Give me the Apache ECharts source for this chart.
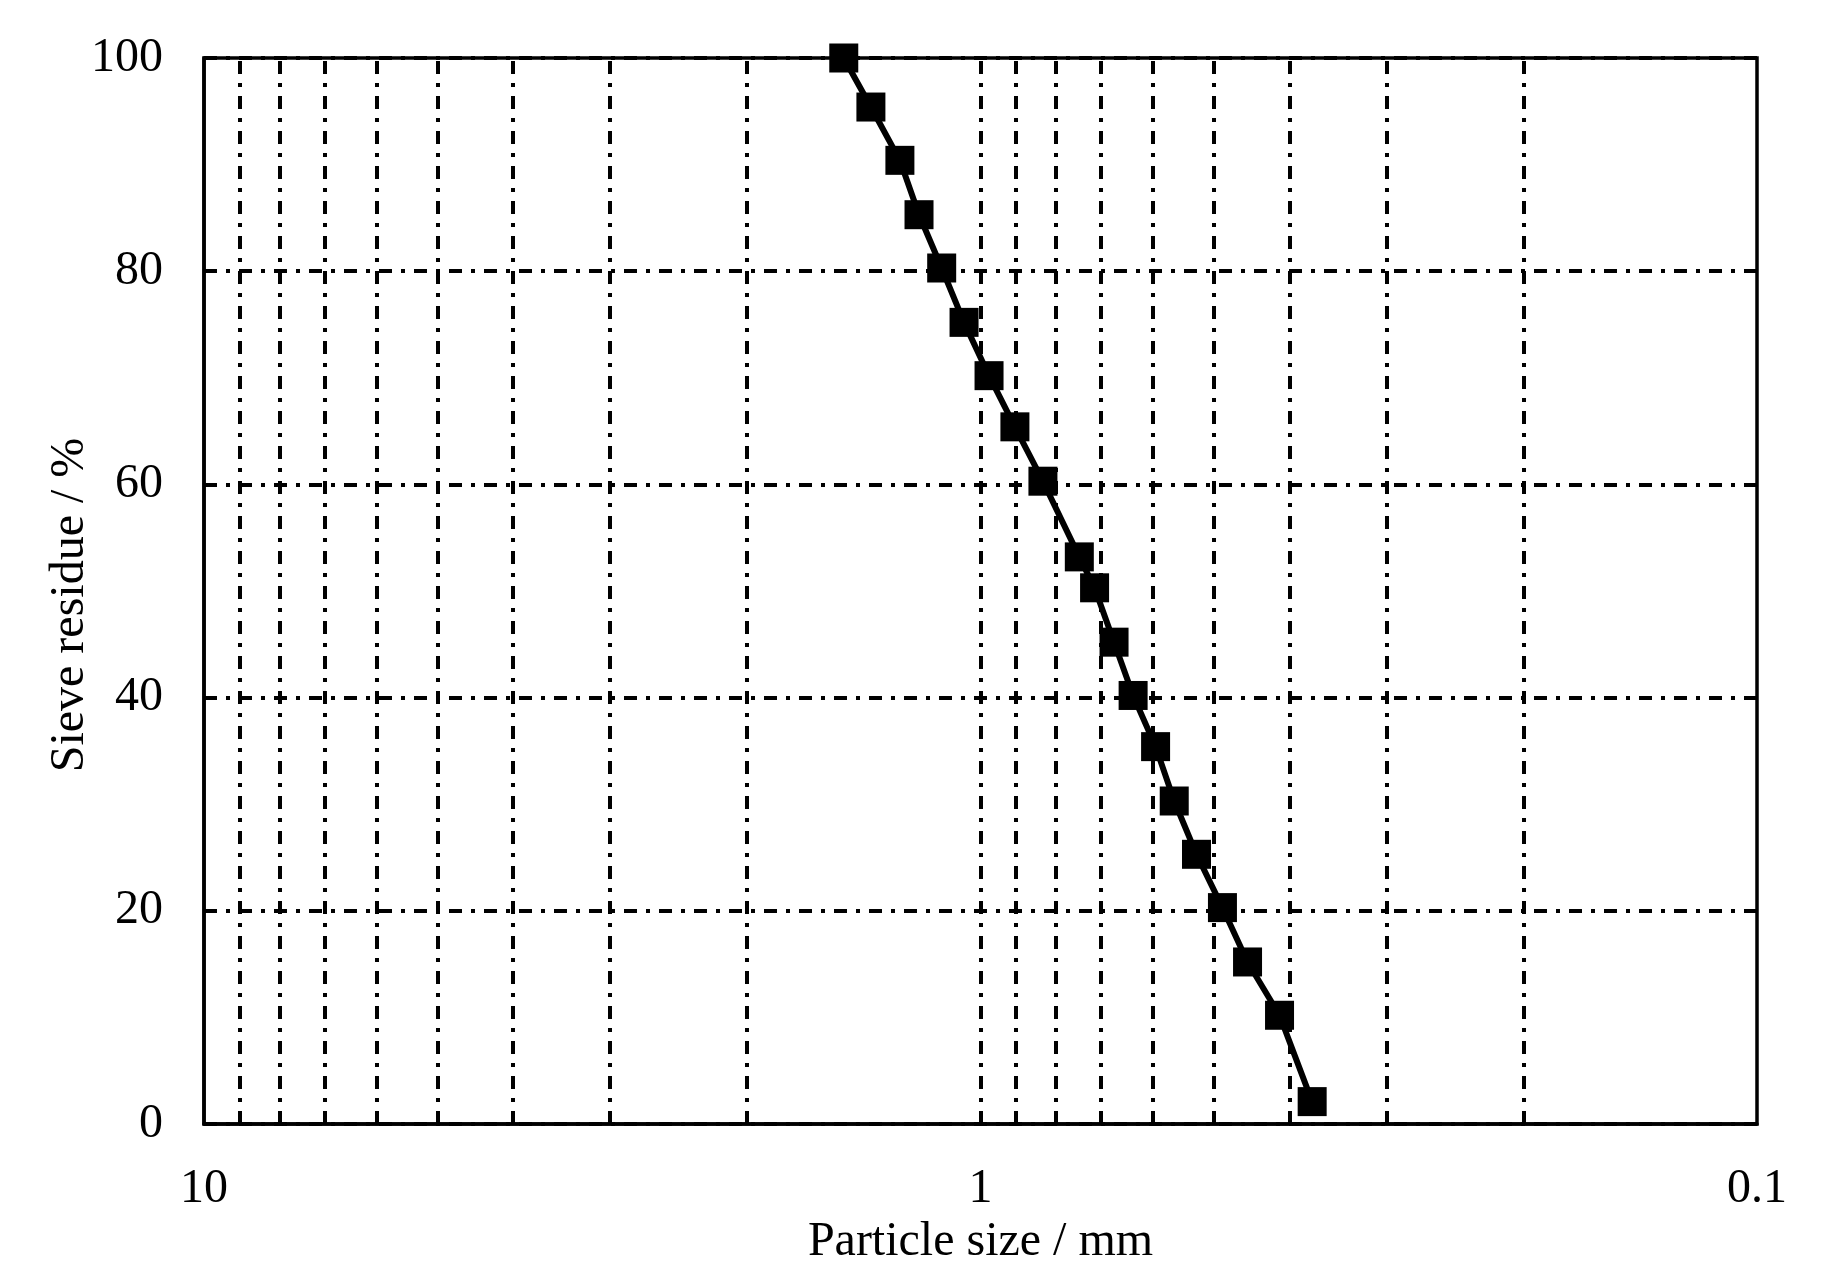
<!DOCTYPE html>
<html>
<head>
<meta charset="utf-8">
<style>
    html, body { margin: 0; padding: 0; background: #fff; }
    #main { width: 1822px; height: 1288px; }
</style>
<script src="https://cdn.jsdelivr.net/npm/echarts@6/dist/echarts.min.js"></script>
</head>
<body>
<div id="main"></div>
<script>
    // particle size (mm) and sieve residue (%)
    var sizes = [1.50, 1.384, 1.270, 1.200, 1.122, 1.050, 0.975, 0.903, 0.831, 0.746,
                 0.713, 0.673, 0.636, 0.595, 0.563, 0.527, 0.488, 0.453, 0.412, 0.374];
    var residues = [100, 95.4, 90.4, 85.3, 80.3, 75.2, 70.2, 65.4, 60.3, 53.2,
                    50.3, 45.2, 40.2, 35.4, 30.3, 25.3, 20.3, 15.2, 10.2, 2.1];

    // minor log grid lines between decades
    var gridSizes = [9, 8, 7, 6, 5, 4, 3, 2, 1, 0.9, 0.8, 0.7, 0.6, 0.5, 0.4, 0.3, 0.2];

    var dashDot = [13, 9, 4, 9];
    var font = 'Liberation Serif';

    var points = sizes.map(function (s, i) { return [s, residues[i]]; });

    var myChart = echarts.init(document.getElementById('main'));

    myChart.setOption({
        backgroundColor: '#fff',
        animation: false,
        grid: {
            left: 204,
            right: 65,
            top: 58,
            bottom: 164,
            show: true,
            borderColor: '#000',
            borderWidth: 3.5,
            outerBoundsMode: 'none'
        },
        xAxis: {
            type: 'log',
            logBase: 10,
            min: 0.1,
            max: 10,
            inverse: true,
            name: 'Particle size / mm',
            nameLocation: 'middle',
            nameGap: 94,
            nameMoveOverlap: false,
            nameTextStyle: { fontFamily: font, fontSize: 48, color: '#000' },
            axisLine: { lineStyle: { color: '#000', width: 3.5 } },
            axisTick: { show: false },
            axisLabel: { margin: 41, fontFamily: font, fontSize: 48, color: '#000' },
            splitLine: { show: false }
        },
        yAxis: {
            type: 'value',
            min: 0,
            max: 100,
            interval: 20,
            name: 'Sieve residue / %',
            nameLocation: 'middle',
            nameGap: 110,
            nameMoveOverlap: false,
            nameTextStyle: { fontFamily: font, fontSize: 48, color: '#000', padding: [0, 28, 0, 0] },
            axisLine: { show: true, lineStyle: { color: '#000', width: 3.5 } },
            axisTick: { show: false },
            axisLabel: { margin: 41, fontFamily: font, fontSize: 48, color: '#000' },
            splitLine: { show: true, lineStyle: { color: '#000', width: 4, type: dashDot } }
        },
        series: [
            {
                type: 'line',
                z: 3,
                data: points,
                symbol: 'rect',
                symbolSize: 29,
                itemStyle: { color: '#000' },
                lineStyle: { color: '#000', width: 6 },
                markLine: {
                    z: 1,
                    silent: true,
                    symbol: ['none', 'none'],
                    label: { show: false },
                    lineStyle: { color: '#000', width: 4, type: dashDot },
                    emphasis: { disabled: true },
                    data: gridSizes.map(function (v) { return { xAxis: v }; })
                }
            }
        ]
    });
</script>
</body>
</html>
